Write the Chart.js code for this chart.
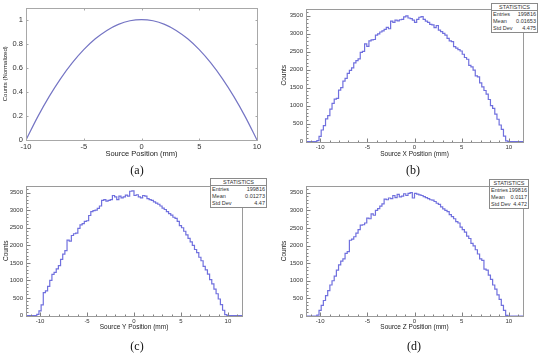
<!DOCTYPE html>
<html>
<head>
<meta charset="utf-8">
<script src="https://cdn.jsdelivr.net/npm/chart.js@4.4.1/dist/chart.umd.min.js"></script>
<style>
  body { margin: 0; width: 550px; height: 355px; background: #fff; position: relative; overflow: hidden; font-family: "Liberation Sans", Arial, sans-serif; }
  canvas { position: absolute; }
  .cap { position: absolute; font-family: "Liberation Serif", serif; font-size: 12px; color: #111; transform: translateX(-50%); line-height: 12px; }
  .stats { position: absolute; border: 1px solid #8a8a8a; background: #fff; font-size: 5.5px; color: #333; z-index: 2; white-space: nowrap; }
  .stats div { height: 7px; line-height: 7px; padding: 0 1px; }
  .stats .hd { text-align: center; border-bottom: 1px solid #8a8a8a; height: 6px; line-height: 6px; }
  .stats .row { display: flex; justify-content: space-between; }
</style>
</head>
<body>
<canvas id="pa" width="270" height="166" style="left:0;top:0"></canvas>
<canvas id="pb" width="274" height="166" style="left:276px;top:0"></canvas>
<canvas id="pc" width="270" height="166" style="left:0;top:176px"></canvas>
<canvas id="pd" width="274" height="166" style="left:276px;top:176px"></canvas>

<div class="cap" style="left:137px;top:164px">(a)</div>
<div class="cap" style="left:413px;top:164px">(b)</div>
<div class="cap" style="left:137px;top:340px">(c)</div>
<div class="cap" style="left:414px;top:340px">(d)</div>

<div class="stats" style="left:491px;top:3px;width:45px">
  <div class="hd">STATISTICS</div>
  <div class="row"><span>Entries</span><span>199816</span></div>
  <div class="row"><span>Mean</span><span>0.01653</span></div>
  <div class="row"><span>Std Dev</span><span>4.475</span></div>
</div>
<div class="stats" style="left:210px;top:178px;width:55px">
  <div class="hd">STATISTICS</div>
  <div class="row"><span>Entries</span><span>199816</span></div>
  <div class="row"><span>Mean</span><span>0.01273</span></div>
  <div class="row"><span>Std Dev</span><span>4.47</span></div>
</div>
<div class="stats" style="left:489px;top:179px;width:38px">
  <div class="hd">STATISTICS</div>
  <div class="row"><span>Entries</span><span>199816</span></div>
  <div class="row"><span>Mean</span><span>0.0117</span></div>
  <div class="row"><span>Std Dev</span><span>4.472</span></div>
</div>

<script>
// (a) analytic profile
const posA = [-10, -9, -8, -7, -6, -5, -4, -3, -2, -1, 0, 1, 2, 3, 4, 5, 6, 7, 8, 9, 10];
const normA = [0, 0.19, 0.36, 0.51, 0.64, 0.75, 0.84, 0.91, 0.96, 0.99, 1, 0.99, 0.96, 0.91, 0.84, 0.75, 0.64, 0.51, 0.36, 0.19, 0];

// (b)-(d) histograms: 100 bins of 0.23 mm starting at -11.5 mm
const binLow = -11.5;
const binWidth = 0.23;
const countsX = [0, 0, 0, 0, 0, 0,
  25, 140, 320, 440, 630, 720, 900, 1060, 1180, 1200,
  1430, 1500, 1680, 1760, 1900, 1980, 2050, 2190, 2250, 2300,
  2480, 2510, 2720, 2650, 2800, 2830, 2840, 2960, 3000, 3050,
  3080, 3120, 3180, 3140, 3350, 3320, 3380, 3360, 3390, 3400,
  3470, 3500, 3440, 3420, 3380, 3320, 3400, 3460, 3480, 3400,
  3350, 3320, 3260, 3250, 3170, 3230, 3100, 3060, 3010, 2960,
  2870, 2800, 2780, 2640, 2600, 2560, 2520, 2430, 2340, 2290,
  2120, 2080, 1990, 1830, 1800, 1630, 1520, 1420, 1320, 1170,
  1000, 920, 760, 620, 460, 340, 150, 20,
  0, 0, 0, 0, 0, 0];
const countsY = [0, 0, 0, 0, 0, 0,
  30, 130, 300, 650, 700, 830, 1000, 1170, 1230, 1330,
  1420, 1600, 1750, 1850, 2150, 2120, 2280, 2330, 2350, 2480,
  2580, 2620, 2680, 2700, 2850, 2960, 2990, 3000, 3050, 3120,
  3280, 3300, 3260, 3280, 3300, 3420, 3380, 3300, 3400, 3350,
  3380, 3430, 3400, 3540, 3550, 3420, 3440, 3380, 3350, 3420,
  3400, 3330, 3300, 3280, 3240, 3200, 3170, 3120, 3060, 3020,
  2960, 2900, 2860, 2800, 2770, 2680, 2560, 2500, 2400, 2300,
  2200, 2100, 2000, 1880, 1790, 1660, 1560, 1400, 1300, 1180,
  1020, 900, 750, 620, 470, 310, 150, 25,
  0, 0, 0, 0, 0, 0];
const countsZ = [0, 0, 0, 0, 0, 0,
  25, 160, 300, 440, 580, 720, 880, 1000, 1130, 1300,
  1450, 1560, 1620, 1780, 1830, 2150, 2180, 2250, 2350, 2450,
  2580, 2590, 2640, 2780, 2760, 2900, 2860, 3000, 3050, 3120,
  3180, 3320, 3300, 3350, 3330, 3420, 3360, 3450, 3380, 3400,
  3470, 3420, 3480, 3500, 3350, 3480, 3460, 3440, 3420, 3390,
  3360, 3330, 3300, 3290, 3250, 3200, 3170, 3100, 3040, 3000,
  2960, 2880, 2820, 2760, 2680, 2640, 2520, 2450, 2380, 2270,
  2200, 2060, 1990, 1880, 1760, 1620, 1580, 1330, 1300, 1160,
  1040, 880, 760, 600, 470, 300, 160, 20,
  0, 0, 0, 0, 0, 0];

const xTicks = [-10, -5, 0, 5, 10];
const xMinor = [-11, -9, -8, -7, -6, -4, -3, -2, -1, 1, 2, 3, 4, 6, 7, 8, 9, 11];
const yTicksA = [0, 0.2, 0.4, 0.6, 0.8, 1];
const yTicksCounts = [0, 500, 1000, 1500, 2000, 2500, 3000, 3500];
const yMinorCounts = [];
for (let v = 100; v < 3700; v += 100) if (v % 500) yMinorCounts.push(v);

const font = 'Liberation Sans';
const histColor = '#7070de';

// frame box + inward tick marks
const frame = {
  id: 'frame',
  afterDraw(chart, args, o) {
    const { ctx, chartArea: a } = chart;
    const x = chart.scales.x, y = chart.scales.y;
    const line = (x1, y1, x2, y2) => { ctx.beginPath(); ctx.moveTo(x1, y1); ctx.lineTo(x2, y2); ctx.stroke(); };
    ctx.save();
    ctx.lineWidth = 1;
    ctx.strokeStyle = o.tickColor;
    const L = Math.round(a.left) + 0.5, R = Math.round(a.right) + 0.5;
    const T = Math.round(a.top) + 0.5, B = Math.round(a.bottom) + 0.5;
    o.yMajor.forEach(v => {
      const p = Math.round(y.getPixelForValue(v)) + 0.5;
      line(L, p, L + o.len, p);
      if (o.mirror) line(R, p, R - o.len, p);
    });
    o.yMinor.forEach(v => {
      const p = Math.round(y.getPixelForValue(v)) + 0.5;
      line(L, p, L + o.len / 2, p);
    });
    o.xMajor.forEach(v => {
      const p = Math.round(x.getPixelForValue(v)) + 0.5;
      line(p, B, p, B - o.len);
      if (o.mirror) line(p, T, p, T + o.len);
    });
    o.xMinor.forEach(v => {
      const p = Math.round(x.getPixelForValue(v)) + 0.5;
      line(p, B, p, B - o.len / 2);
    });
    ctx.strokeStyle = o.frameColor;
    ctx.strokeRect(L, T, R - L, B - T);
    ctx.restore();
  }
};

function histPoints(counts) {
  const pts = counts.map((c, i) => ({ x: binLow + i * binWidth, y: c }));
  pts.push({ x: binLow + counts.length * binWidth, y: counts[counts.length - 1] });
  return pts;
}

function makeChart(id, cfg) {
  return new Chart(document.getElementById(id), {
    type: 'line',
    data: { datasets: [cfg.dataset] },
    options: {
      responsive: false,
      animation: false,
      layout: { padding: cfg.pad },
      plugins: {
        legend: { display: false },
        tooltip: { enabled: false },
        frame: cfg.frame
      },
      scales: {
        x: {
          type: 'linear', min: cfg.xMin, max: cfg.xMax,
          afterBuildTicks: s => { s.ticks = xTicks.map(v => ({ value: v })); },
          afterFit: s => { s.height = cfg.xH; },
          grid: { display: false, drawTicks: false },
          border: { display: false },
          ticks: { padding: 2, autoSkip: false, maxRotation: 0, color: '#333', font: { family: font, size: cfg.tickFs }, callback: v => String(v) },
          title: { display: true, text: cfg.xTitle, padding: 0, color: '#222', font: { family: font, size: cfg.xTitleFs } }
        },
        y: {
          min: 0, max: cfg.yMax,
          afterBuildTicks: s => { s.ticks = cfg.yTicks.map(v => ({ value: v })); },
          afterFit: s => { s.width = cfg.yW; },
          grid: { display: false, drawTicks: false },
          border: { display: false },
          ticks: { padding: 3, autoSkip: false, color: '#333', font: { family: font, size: cfg.tickFs }, callback: v => String(v) },
          title: { display: true, text: cfg.yTitle, padding: 0, color: '#222', font: { family: font, size: cfg.yTitleFs } }
        }
      }
    },
    plugins: [frame]
  });
}

function rootPanel(id, counts, xTitle, pad, yW, xH) {
  return makeChart(id, {
    dataset: {
      data: histPoints(counts), stepped: 'after', borderColor: histColor, borderWidth: 1.2,
      pointRadius: 0, fill: false, clip: 3
    },
    pad, yW, xH, tickFs: 6, xTitleFs: 6.5, yTitleFs: 6.5,
    xMin: -11.5, xMax: 11.5, yMax: 3690,
    yTicks: yTicksCounts,
    xTitle, yTitle: 'Counts',
    frame: { frameColor: '#9a9a9a', tickColor: '#808080', len: 4, mirror: false,
      yMajor: yTicksCounts, yMinor: yMinorCounts, xMajor: xTicks, xMinor: xMinor }
  });
}

makeChart('pa', {
  dataset: {
    data: posA.map((p, i) => ({ x: p, y: normA[i] })),
    borderColor: '#7575c4', borderWidth: 1.2, pointRadius: 0, fill: false,
    cubicInterpolationMode: 'monotone'
  },
  pad: { left: 2, right: 13, top: 5, bottom: 8 },
  yW: 24, xH: 18, tickFs: 7.5, xTitleFs: 7.5, yTitleFs: 6,
  xMin: -10, xMax: 10, yMax: 1.1,
  yTicks: yTicksA,
  xTitle: 'Source Position (mm)', yTitle: 'Counts (Normalized)',
  frame: { frameColor: '#a8a8a8', tickColor: '#a8a8a8', len: 2, mirror: true,
    yMajor: yTicksA, yMinor: [], xMajor: xTicks, xMinor: [] }
});

rootPanel('pb', countsX, 'Source X Position (mm)', { left: 4, right: 27, top: 9, bottom: 8 }, 26, 16.5);
rootPanel('pc', countsY, 'Source Y Position (mm)', { left: 2, right: 28, top: 10, bottom: 10.5 }, 24, 16);
rootPanel('pd', countsZ, 'Source Z Position (mm)', { left: 4, right: 27, top: 10, bottom: 10.5 }, 26, 15.5);
</script>
</body>
</html>
